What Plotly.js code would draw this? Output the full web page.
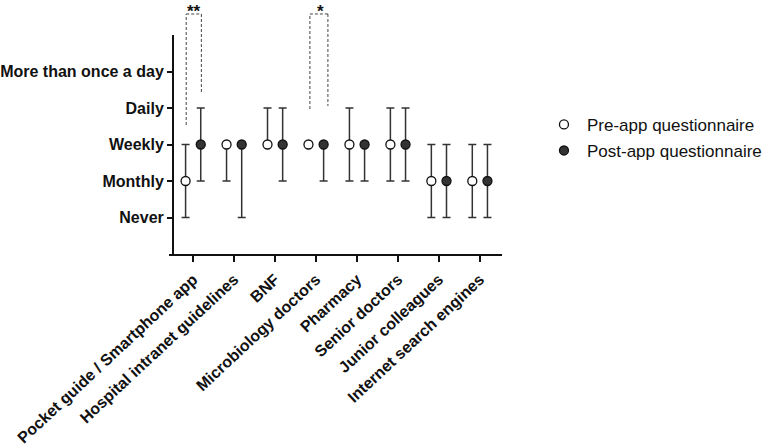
<!DOCTYPE html>
<html>
<head>
<meta charset="utf-8">
<script src="https://cdn.plot.ly/plotly-3.0.1.min.js"></script>
<style>html,body{margin:0;padding:0;background:#fff;}#chart{width:770px;height:447px;}</style>
</head>
<body>
<div id="chart"></div>
<script>
const categories = ["Pocket guide / Smartphone app", "Hospital intranet guidelines", "BNF", "Microbiology doctors", "Pharmacy", "Senior doctors", "Junior colleagues", "Internet search engines"];
const frequencyLabels = ["Never", "Monthly", "Weekly", "Daily", "More than once a day"];
const frequencyValues = [0, 1, 2, 3, 4];
const preValue = [1, 2, 2, 2, 2, 2, 1, 1];
const preLow   = [0, 1, 2, 2, 1, 1, 0, 0];
const preHigh  = [2, 2, 3, 2, 3, 3, 2, 2];
const postValue = [2, 2, 2, 2, 2, 2, 1, 1];
const postLow   = [1, 0, 1, 1, 1, 1, 0, 0];
const postHigh  = [3, 2, 3, 2, 2, 3, 2, 2];

const offset = 0.185;
const idx = categories.map((c, i) => i);
const font = "Liberation Sans, Arial, sans-serif";

function errs(v, lo, hi) {
  return {
    type: 'data', symmetric: false,
    array: hi.map((h, i) => h - v[i]),
    arrayminus: lo.map((l, i) => v[i] - l),
    color: '#333', thickness: 1.5, width: 4
  };
}

const pre = {
  type: 'scatter', mode: 'markers', name: 'Pre-app questionnaire',
  x: idx.map(i => i - offset), y: preValue,
  error_y: errs(preValue, preLow, preHigh),
  marker: {symbol: 'circle', size: 9, color: '#ffffff', line: {color: '#111', width: 1.3}},
  legendgroup: 'a', hoverinfo: 'skip'
};
const post = {
  type: 'scatter', mode: 'markers', name: 'Post-app questionnaire',
  x: idx.map(i => i + offset), y: postValue,
  error_y: errs(postValue, postLow, postHigh),
  marker: {symbol: 'circle', size: 9, color: '#333333', line: {color: '#111', width: 1.3}},
  legendgroup: 'b', hoverinfo: 'skip'
};

const dash = {color: '#444', width: 1, dash: '3px,2px'};
function bracket(xl, xr, yl, yr, top) {
  return [
    {type: 'line', xref: 'x', yref: 'paper', x0: xl, x1: xl, y0: yl, y1: top, line: dash},
    {type: 'line', xref: 'x', yref: 'paper', x0: xl, x1: xr, y0: top, y1: top, line: dash},
    {type: 'line', xref: 'x', yref: 'paper', x0: xr, x1: xr, y0: top, y1: yr, line: dash}
  ];
}

const layout = {
  width: 770, height: 447,
  margin: {l: 169, r: 268, t: 35, b: 193, autoexpand: false},
  paper_bgcolor: '#fff', plot_bgcolor: '#fff',
  showlegend: true,
  legend: {x: 1.117, xanchor: 'left', y: 0.672, yanchor: 'top', traceorder: 'grouped', tracegroupgap: 1,
           itemwidth: 36,
           font: {family: font, size: 17, color: '#111'}, bgcolor: 'rgba(0,0,0,0)'},
  xaxis: {
    range: [-0.59, 7.54], tickmode: 'array', tickvals: idx, ticktext: categories,
    tickangle: -43, showgrid: false, zeroline: false,
    showline: true, linecolor: '#111', linewidth: 2,
    ticks: 'outside', ticklen: 6, tickwidth: 2, tickcolor: '#111',
    ticklabelstandoff: 2,
    tickfont: {family: font, size: 16, color: '#111', weight: 'bold'}
  },
  yaxis: {
    range: [-1, 5], tickmode: 'array', tickvals: frequencyValues, ticktext: frequencyLabels,
    anchor: 'free', position: 0.012,
    showgrid: false, zeroline: false,
    showline: true, linecolor: '#111', linewidth: 2,
    ticks: 'outside', ticklen: 5, tickwidth: 2, tickcolor: '#111',
    tickfont: {family: font, size: 16, color: '#111', weight: 'bold'}
  },
  shapes: [].concat(
    bracket(0 - 0.17, 0 + 0.2, 0.589, 0.735, 1.096),
    bracket(3 - 0.15, 3 + 0.29, 0.662, 0.676, 1.096)
  ),
  annotations: [
    {xref: 'x', yref: 'paper', x: 0.02, y: 1.16, yanchor: 'top', text: '**', showarrow: false,
     font: {family: font, size: 17, color: '#111', weight: 'bold'}},
    {xref: 'x', yref: 'paper', x: 3.1, y: 1.16, yanchor: 'top', text: '*', showarrow: false,
     font: {family: font, size: 17, color: '#111', weight: 'bold'}}
  ]
};

Plotly.newPlot('chart', [pre, post], layout, {staticPlot: true, displayModeBar: false});
</script>
</body>
</html>
